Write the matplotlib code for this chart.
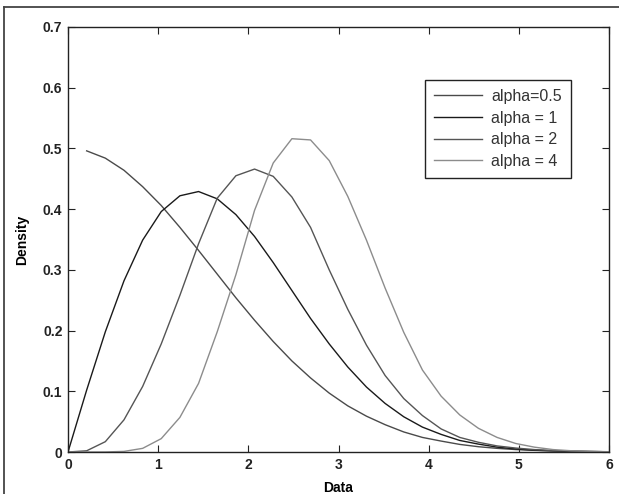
import numpy as np
import matplotlib
matplotlib.use("Agg")
import matplotlib.pyplot as plt
from matplotlib.lines import Line2D

# ---- data ----
x = [0.0, 0.207, 0.414, 0.621, 0.828, 1.034, 1.241, 1.448, 1.655, 1.862,
     2.069, 2.276, 2.483, 2.690, 2.897, 3.103, 3.310, 3.517, 3.724, 3.931,
     4.138, 4.345, 4.552, 4.759, 4.966, 5.172, 5.379, 5.586, 5.793, 6.0]

alpha_05 = [np.nan, 0.496, 0.484, 0.464, 0.437, 0.406, 0.370, 0.332, 0.293, 0.254,
            0.217, 0.182, 0.150, 0.122, 0.097, 0.076, 0.059, 0.045, 0.033, 0.024,
            0.018, 0.0125, 0.0087, 0.006, 0.004, 0.0027, 0.0018, 0.0011, 0.0007, 0.0004]

alpha_1 = [0.0, 0.102, 0.198, 0.282, 0.349, 0.396, 0.422, 0.429, 0.417, 0.391,
           0.355, 0.312, 0.266, 0.220, 0.178, 0.140, 0.107, 0.080, 0.058, 0.041,
           0.029, 0.019, 0.013, 0.008, 0.005, 0.003, 0.0019, 0.0011, 0.0007, 0.0004]

alpha_2 = [0.0, 0.002, 0.017, 0.053, 0.108, 0.178, 0.258, 0.343, 0.418, 0.455,
           0.466, 0.454, 0.420, 0.370, 0.300, 0.235, 0.176, 0.126, 0.088, 0.060,
           0.038, 0.024, 0.016, 0.010, 0.0065, 0.004, 0.0024, 0.0014, 0.0008, 0.0004]

alpha_4 = [0.0, 0.0, 0.0001, 0.001, 0.006, 0.022, 0.057, 0.113, 0.198, 0.292,
           0.398, 0.476, 0.516, 0.514, 0.480, 0.421, 0.349, 0.270, 0.197, 0.135,
           0.092, 0.061, 0.039, 0.024, 0.014, 0.008, 0.004, 0.002, 0.001, 0.0005]

labels = ["alpha=0.5", "alpha = 1", "alpha = 2", "alpha = 4"]
xticks = [0, 1, 2, 3, 4, 5, 6]
yticks = [0, 0.1, 0.2, 0.3, 0.4, 0.5, 0.6, 0.7]
ytick_labels = ["0", "0.1", "0.2", "0.3", "0.4", "0.5", "0.6", "0.7"]

# ---- figure ----
plt.rcParams['font.family'] = ['Liberation Sans', 'DejaVu Sans']
fig = plt.figure(figsize=(6.19, 4.94), dpi=100)
W, H = 619, 494
ax = fig.add_axes([68 / W, (H - 452) / H, 541 / W, 425 / H])

colors = ['#4a4a4a', '#1a1a1a', '#555555', '#8c8c8c']
series = [alpha_05, alpha_1, alpha_2, alpha_4]
for s, c, lab in zip(series, colors, labels):
    ax.plot(x, s, color=c, lw=1.0, label=lab)

ax.set_xlim(0, 6)
ax.set_ylim(0, 0.7)
ax.set_xticks(xticks)
ax.set_xticklabels([str(t) for t in xticks])
ax.set_yticks(yticks)
ax.set_yticklabels(ytick_labels)
ax.tick_params(direction='in', length=5, width=0.8, top=True, right=True,
               labelsize=10, pad=4, colors='#222222')
for lab in ax.get_xticklabels() + ax.get_yticklabels():
    lab.set_fontweight('bold')
for sp in ax.spines.values():
    sp.set_color('#222222')
    sp.set_linewidth(1.0)

ax.set_xlabel('Data', fontsize=10, fontweight='bold', labelpad=7)
ax.set_ylabel('Density', fontsize=10, fontweight='bold', labelpad=10)

leg = ax.legend(loc='upper left', bbox_to_anchor=(0.66, 0.875), borderaxespad=0,
                fontsize=11.5, handlelength=3.0, handletextpad=0.6,
                labelspacing=0.42, borderpad=0.55, fancybox=False, framealpha=1)
leg.get_frame().set_edgecolor('#222222')
leg.get_frame().set_linewidth(1.0)
for t in leg.get_texts():
    t.set_color('#333333')

# outer frame lines (top and left)
fig.add_artist(Line2D([4 / W, 1.0], [1 - 7 / H, 1 - 7 / H], transform=fig.transFigure,
                      color='#444444', lw=1.3))
fig.add_artist(Line2D([4 / W, 4 / W], [0.0, 1 - 7 / H], transform=fig.transFigure,
                      color='#444444', lw=1.3))

fig.savefig('out.png', dpi=100)
